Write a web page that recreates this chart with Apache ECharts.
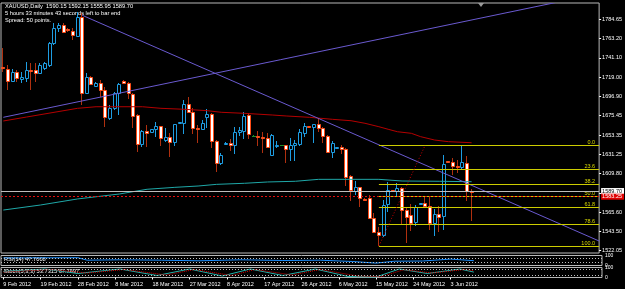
<!DOCTYPE html>
<html lang="en">
<head>
<meta charset="UTF-8">
<title>XAUUSD Daily</title>
<script src="https://cdn.jsdelivr.net/npm/echarts@6/dist/echarts.min.js"></script>
<style>
  html, body { margin: 0; padding: 0; background: #000; }
  #main { width: 625px; height: 289px; }
</style>
</head>
<body>
<div id="main"></div>
<script>
// daily bars, 9 Feb 2012 .. 8 Jun 2012 (index = bar number)
const opens = [1731.2,1728.4,1715.1,1724.6,1717.0,1717.8,1727.8,1727.3,1723.5,1729.5,1732.9,1757.6,1774.7,1778.4,1773.9,1771.9,1765.9,1787.5,1701.5,1719.6,1709.4,1712.1,1704.5,1672.4,1683.7,1700.8,1714.8,1712.8,1699.6,1676.1,1643.2,1658.3,1657.1,1659.9,1663.6,1647.7,1650.8,1645.8,1667.6,1667.4,1688.3,1679.9,1661.3,1659.9,1673.5,1677.3,1646.6,1621.9,1642.8,1644.6,1642.0,1656.5,1658.3,1676.1,1652.6,1652.6,1651.5,1649.6,1630.7,1641.2,1642.0,1642.0,1637.1,1642.0,1642.8,1656.0,1663.8,1662.8,1665.5,1661.7,1652.6,1634.4,1638.7,1639.4,1637.5,1606.8,1590.1,1593.9,1580.9,1581.4,1558.7,1543.5,1539.7,1575.0,1590.6,1590.1,1593.2,1568.1,1562.5,1554.5,1575.9,1575.7,1572.7,1553.7,1563.3,1561.3,1623.3,1623.0,1618.2,1617.4,1622.1,1590.15]
const highs = [1752.3,1732.9,1728.4,1727.3,1725.3,1736.7,1734.9,1734.9,1734.9,1736.7,1759.4,1780.3,1781.0,1780.3,1775.0,1774.7,1793.2,1792.0,1724.2,1720.4,1713.6,1715.9,1707.6,1687.5,1702.6,1712.0,1715.5,1714.0,1700.8,1677.0,1659.0,1664.8,1660.5,1668.5,1664.0,1661.0,1655.3,1666.0,1668.5,1693.2,1696.9,1683.7,1664.8,1670.4,1682.6,1678.0,1647.7,1632.6,1645.1,1648.5,1662.1,1662.1,1679.2,1678.0,1653.5,1658.3,1657.1,1655.3,1654.0,1646.9,1642.5,1642.5,1649.6,1647.7,1659.9,1666.7,1664.0,1666.0,1671.6,1662.5,1653.4,1646.9,1639.8,1641.7,1638.3,1607.5,1601.1,1594.5,1581.5,1585.2,1564.4,1549.2,1579.5,1600.0,1591.0,1598.5,1594.0,1571.6,1575.0,1574.0,1576.6,1583.3,1583.3,1568.9,1572.7,1630.7,1623.5,1627.2,1625.0,1642.0,1629.5,1592.15]
const lows = [1725.0,1704.5,1714.0,1714.0,1712.1,1714.0,1704.5,1714.0,1722.7,1727.3,1731.0,1755.7,1770.8,1769.0,1770.8,1761.4,1764.8,1687.5,1700.8,1710.2,1709.1,1696.9,1662.8,1670.4,1681.8,1676.1,1711.3,1694.0,1661.0,1634.4,1640.1,1640.1,1656.8,1651.5,1640.9,1645.8,1628.0,1641.2,1666.9,1654.5,1679.5,1654.2,1644.6,1659.1,1661.7,1638.3,1611.7,1619.3,1642.4,1635.2,1631.8,1652.6,1648.5,1648.8,1652.0,1640.9,1633.3,1638.3,1630.0,1638.3,1641.5,1621.9,1623.8,1623.8,1641.2,1651.5,1663.0,1644.0,1657.1,1644.6,1633.7,1626.9,1638.0,1631.8,1595.4,1578.7,1585.2,1571.9,1580.0,1557.6,1542.4,1527.2,1537.8,1565.9,1589.6,1582.4,1552.2,1531.2,1544.3,1550.0,1575.5,1572.1,1545.4,1538.6,1543.1,1545.4,1622.5,1607.9,1610.2,1613.6,1578.9,1555.95]
const closes = [1730.1,1715.1,1725.3,1717.8,1719.6,1727.3,1726.7,1723.5,1732.9,1734.9,1757.6,1774.7,1778.4,1770.8,1773.2,1767.0,1787.5,1701.5,1719.6,1711.3,1712.8,1704.5,1674.2,1684.4,1701.5,1711.3,1712.1,1700.8,1675.0,1643.2,1658.3,1655.3,1660.2,1663.6,1649.6,1650.8,1645.8,1665.5,1668.0,1688.6,1679.9,1661.0,1660.7,1667.4,1677.3,1646.6,1621.9,1630.7,1644.6,1642.0,1657.1,1659.1,1675.0,1654.5,1652.6,1650.8,1649.6,1640.1,1653.4,1642.0,1642.0,1637.5,1642.0,1644.6,1657.1,1663.6,1663.4,1665.5,1661.7,1652.6,1634.4,1644.6,1639.2,1637.5,1606.0,1590.9,1593.9,1582.1,1580.4,1558.7,1543.5,1539.7,1573.8,1590.9,1590.1,1593.7,1568.1,1560.2,1553.4,1572.1,1576.3,1572.7,1553.7,1563.3,1560.5,1620.4,1622.8,1618.2,1616.5,1622.4,1590.2,1589.70]

// moving averages: [bar, price]
const maRed = [[0,1669.3],[5,1673.8],[16,1683.7],[20,1685.5],[30,1685.5],[34,1683.7],[39,1682.6],[44,1681.0],[47,1679.2],[52,1678.0],[58,1676.1],[61,1675.0],[66,1673.5],[71,1671.2],[75,1669.6],[78,1666.7],[81,1662.8],[83,1659.9],[85,1657.1],[88,1655.3],[90,1651.5],[93,1647.7],[96,1645.8],[101,1644.6]]
const maTeal = [[0,1568.1],[8,1573.8],[16,1580.7],[25,1586.3],[31,1591.7],[37,1593.9],[42,1595.4],[46,1597.3],[52,1598.5],[57,1600.0],[63,1600.8],[68,1603.0],[81,1603.0],[86,1601.1],[94,1600.8],[101,1600.3]]

// trend lines (rays): [bar1, price1, bar2, price2]
const trendLines = [[17,1789.5,95,1610.0],[0,1673.5,60,1739.2]]

// fibonacci retracement
const fibLow = [81, 1527.2]
const fibHigh = [91, 1642.0]
const fibLevels = [0, 23.6, 38.2, 50, 61.8, 78.6, 100]

const bidPrice = 1589.70
const linePrice = 1583.25

// sub windows: [bar, value]
const rsi = [[0,75],[16,78],[18,53],[25,57],[34,53],[42,47],[51,57],[60,50],[68,53],[75,40],[80,24],[84,43],[90,45],[96,64],[101,48]]
const stochMain = [[0,60],[9,85],[16,40],[25,85],[33,20],[40,85],[47,15],[53,85],[60,20],[67,85],[74,10],[80,5],[85,85],[91,40],[98,85],[101,54]]
const stochSignal = [[0,55],[10,80],[18,45],[26,80],[35,25],[41,80],[49,20],[54,80],[62,25],[68,80],[76,15],[81,8],[86,78],[92,45],[99,80],[101,68]]

const priceTicks = [1784.65,1763.20,1741.10,1719.00,1696.90,1675.45,1653.35,1631.25,1609.80,1587.70,1565.60,1543.50,1522.05]
const dateTicks = ['9 Feb 2012','19 Feb 2012','28 Feb 2012','8 Mar 2012','18 Mar 2012','27 Mar 2012','8 Apr 2012','17 Apr 2012','26 Apr 2012','6 May 2012','15 May 2012','24 May 2012','3 Jun 2012']

const slots = 129
const cats = []
for (let i = 0; i < slots; i++) cats.push(i)

const bull = '#1e9de2'
const bearBody = '#ff4b16'
const bearWick = '#b0300f'
const font = '"Liberation Sans", Arial, sans-serif'

const candleData = opens.map((o, i) => [i, o, highs[i], lows[i], closes[i]])

function renderCandle(params, api) {
  const i = api.value(0)
  const o = api.value(1), h = api.value(2), l = api.value(3), c = api.value(4)
  const pO = api.coord([i, o]), pC = api.coord([i, c])
  const pH = api.coord([i, h]), pL = api.coord([i, l])
  const X = Math.round(pO[0])
  const up = c > o
  const kids = []
  if (o === c) {
    const y = Math.round(pO[1]) + 0.5
    kids.push({ type: 'line', shape: { x1: X - 0.5, y1: Math.round(pH[1]), x2: X - 0.5, y2: Math.round(pL[1]) },
      style: { stroke: '#1f8f2a', lineWidth: 1 } })
    kids.push({ type: 'line', shape: { x1: X - 2, y1: y, x2: X + 2, y2: y }, style: { stroke: '#1f8f2a', lineWidth: 1 } })
    return { type: 'group', children: kids }
  }
  kids.push({ type: 'line', shape: { x1: X - 0.5, y1: Math.round(pH[1]), x2: X - 0.5, y2: Math.round(pL[1]) },
    style: { stroke: up ? bull : bearWick, lineWidth: 1 } })
  const top = Math.round(Math.min(pO[1], pC[1])) + 0.5
  const bot = Math.round(Math.max(pO[1], pC[1])) + 0.5
  kids.push({ type: 'rect', shape: { x: X - 1.5, y: top, width: 3, height: Math.max(bot - top, 1) },
    style: { fill: up ? '#000' : '#fff', stroke: up ? bull : bearBody, lineWidth: 1 } })
  return { type: 'group', children: kids }
}

function renderRay(params, api) {
  const a = api.coord([api.value(0), api.value(1)])
  const b = api.coord([api.value(2), api.value(3)])
  const right = params.coordSys.x + params.coordSys.width
  const k = (b[1] - a[1]) / (b[0] - a[0])
  return { type: 'line', shape: { x1: a[0], y1: a[1], x2: right, y2: a[1] + k * (right - a[0]) },
    style: { stroke: '#6a5ad0', lineWidth: 1 } }
}

const fibData = fibLevels.map(lv => [fibLow[0], fibHigh[1] - (fibHigh[1] - fibLow[1]) * lv / 100, lv])

function renderFib(params, api) {
  const p = api.coord([api.value(0), api.value(1)])
  const right = params.coordSys.x + params.coordSys.width
  const y = Math.round(p[1]) + 0.5
  return { type: 'group', children: [
    { type: 'line', shape: { x1: p[0], y1: y, x2: right, y2: y }, style: { stroke: '#cccc00', lineWidth: 1 } },
    { type: 'text', x: right - 4, y: y - 0.5, style: { text: api.value(2).toFixed(1), fill: '#d8d800',
      font: '5.5px ' + font, align: 'right', verticalAlign: 'bottom' } }
  ] }
}

const chart = echarts.init(document.getElementById('main'))

const smallText = (txt, x, y) => ({ type: 'text', left: x, top: y,
  style: { text: txt, fill: '#fff', font: '5.7px ' + font } })

chart.setOption({
  backgroundColor: '#000',
  animation: false,
  grid: [
    { left: 1, top: 3, width: 601, height: 250, show: true, borderColor: '#b8b8b8', borderWidth: 1 },
    { left: 1, top: 255.5, width: 601, height: 10, show: true, borderColor: '#b8b8b8', borderWidth: 1 },
    { left: 1, top: 267.5, width: 601, height: 10, show: true, borderColor: '#b8b8b8', borderWidth: 1 }
  ],
  xAxis: [0, 1, 2].map(g => ({
    type: 'category', data: cats, gridIndex: g, boundaryGap: true,
    axisLine: { show: false },
    axisTick: g === 2 ? { show: true, alignWithLabel: true, length: 2, lineStyle: { color: '#fff' },
      interval: idx => idx % 8 === 0 && idx / 8 < dateTicks.length } : { show: false },
    axisLabel: g === 2 ? { show: true, color: '#fff', fontSize: 5.5, fontFamily: font, align: 'left', margin: 4,
      interval: idx => idx % 8 === 0 && idx / 8 < dateTicks.length,
      formatter: (v, idx) => dateTicks[idx / 8] || '' } : { show: false },
    splitLine: { show: false }
  })),
  yAxis: [
    { type: 'value', gridIndex: 0, position: 'right', min: 1519.28, max: 1803.40, scale: true,
      axisLine: { show: false }, splitLine: { show: false },
      axisTick: { show: true, length: 2, lineStyle: { color: '#fff' }, customValues: priceTicks },
      axisLabel: { color: '#fff', fontSize: 5.5, fontFamily: font, margin: 3, customValues: priceTicks,
        formatter: v => v.toFixed(2) } },
    { type: 'value', gridIndex: 1, position: 'right', min: 0, max: 100,
      axisLine: { show: false }, splitLine: { show: false }, axisTick: { show: false },
      axisLabel: { color: '#fff', fontSize: 5, fontFamily: font, margin: 3, customValues: [100, 0] } },
    { type: 'value', gridIndex: 2, position: 'right', min: 0, max: 100,
      axisLine: { show: false }, splitLine: { show: false }, axisTick: { show: false },
      axisLabel: { color: '#fff', fontSize: 5, fontFamily: font, margin: 3, customValues: [100, 0] } }
  ],
  graphic: [
    smallText('XAUUSD,Daily  1590.15 1592.15 1555.95 1589.70', 5, 3),
    smallText('5 hours 33 minutes 43 seconds left to bar end', 5, 10),
    smallText('Spread: 50 points.', 5, 17),
    smallText('RSI(14) 47.7008', 4, 256.5),
    smallText('Stoch(5,3,3) 53.7315 67.7497', 4, 268.5),
    { type: 'polygon', shape: { points: [[478, 3], [484, 3], [481, 7]] }, style: { fill: '#9a9a9a' } }
  ],
  series: [
    { type: 'custom', name: 'XAUUSD', xAxisIndex: 0, yAxisIndex: 0, data: candleData,
      encode: { x: 0, y: [1, 2, 3, 4] }, renderItem: renderCandle, z: 2, silent: true },
    { type: 'line', name: 'MA red', data: maRed, showSymbol: false, z: 3,
      lineStyle: { color: '#b40000', width: 1 } },
    { type: 'line', name: 'MA teal', data: maTeal, showSymbol: false, z: 3,
      lineStyle: { color: '#1fa8a8', width: 1 },
      markLine: { silent: true, symbol: 'none', data: [
        { yAxis: bidPrice, lineStyle: { color: '#bdbdbd', type: 'solid', width: 1 },
          label: { show: true, position: 'end', distance: 2, formatter: bidPrice.toFixed(2), color: '#000',
            backgroundColor: '#fff', fontSize: 5.5, fontFamily: font, padding: [0, 2, 0, 1] } },
        { yAxis: linePrice, lineStyle: { color: '#e01010', type: [2, 2], width: 1 },
          label: { show: true, position: 'end', distance: 2, formatter: linePrice.toFixed(2), color: '#fff',
            backgroundColor: '#e00000', fontSize: 5.5, fontFamily: font, padding: [0, 2, 0, 1] } }
      ] } },
    { type: 'custom', name: 'trend', data: trendLines, encode: { x: [0, 2], y: [1, 3] },
      renderItem: renderRay, clip: true, z: 4, silent: true },
    { type: 'custom', name: 'fibo', data: fibData, encode: { x: 0, y: 1 },
      renderItem: renderFib, z: 4, silent: true },
    { type: 'line', name: 'fibo base', data: [fibLow, fibHigh], showSymbol: false, z: 4,
      lineStyle: { color: '#c80000', width: 1, type: [1, 2] } },
    { type: 'line', name: 'RSI', xAxisIndex: 1, yAxisIndex: 1, data: rsi, showSymbol: false,
      lineStyle: { color: '#1e90ff', width: 1 },
      markLine: { silent: true, symbol: 'none', label: { show: false },
        lineStyle: { color: '#c0c0c0', type: [1, 2], width: 1 }, data: [{ yAxis: 70 }, { yAxis: 30 }] } },
    { type: 'line', name: 'Stoch', xAxisIndex: 2, yAxisIndex: 2, data: stochMain, showSymbol: false,
      lineStyle: { color: '#20b2aa', width: 1 },
      markLine: { silent: true, symbol: 'none', label: { show: false },
        lineStyle: { color: '#c0c0c0', type: [1, 2], width: 1 }, data: [{ yAxis: 80 }, { yAxis: 20 }] } },
    { type: 'line', name: 'Signal', xAxisIndex: 2, yAxisIndex: 2, data: stochSignal, showSymbol: false,
      lineStyle: { color: '#e00000', width: 1, type: [1, 1] } }
  ]
})
</script>
</body>
</html>
